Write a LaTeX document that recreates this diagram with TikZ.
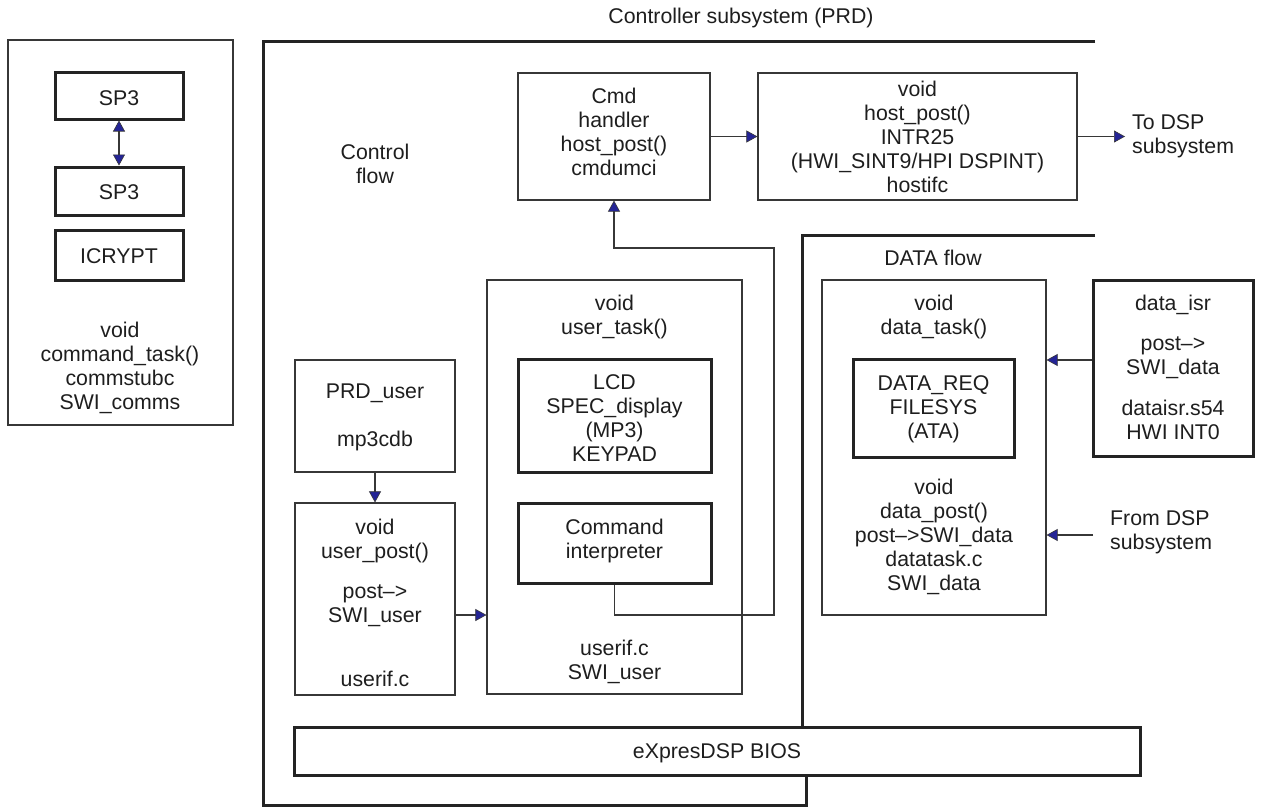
\documentclass[tikz,border=0pt]{standalone}
\usepackage{fontspec}
\setmainfont{Liberation Sans}
\usetikzlibrary{arrows.meta}
\definecolor{arrowblue}{RGB}{36,36,150}
\definecolor{linegray}{RGB}{55,55,55}
\definecolor{thickgray}{RGB}{35,35,35}
\definecolor{textgray}{RGB}{30,30,30}
\begin{document}
\begin{tikzpicture}[x=1pt,y=-1pt,
  thinbox/.style={draw=linegray, line width=1.2pt, inner sep=0pt},
  thickbox/.style={draw=thickgray, line width=3pt, inner sep=0pt},
  frameline/.style={draw=thickgray, line width=3pt, line cap=butt},
  txt/.style={font=\fontsize{21.3}{24}\selectfont, text=textgray, inner sep=0pt, align=center,
    execute at begin node=\strut, execute at end node=\strut},
  txtl/.style={txt, align=left, anchor=west},
  arr/.style={draw=linegray, line width=1.2pt,
    -{Triangle[length=11pt,width=12pt,fill=arrowblue,line width=0.6pt]}},
  darr/.style={draw=linegray, line width=1.2pt,
    {Triangle[length=11pt,width=12pt,fill=arrowblue,line width=0.6pt]}-{Triangle[length=11pt,width=12pt,fill=arrowblue,line width=0.6pt]}}
]
\useasboundingbox[fill=white] (0,0) rectangle (1261,806);

% ---------- left box ----------
\node[thinbox, minimum width=225pt, minimum height=385pt] (leftbox) at (120.5,232.5) {};
\node[thickbox, minimum width=128pt, minimum height=47pt] (sp3a) at (119,95.5) {};
\node[thickbox, minimum width=128pt, minimum height=48pt] (sp3b) at (119,191) {};
\node[thickbox, minimum width=128pt, minimum height=50pt] (icrypt) at (119,255) {};
\node[txt] (tsp3a) at (119,100.4) {SP3};
\node[txt] (tsp3b) at (119,194.9) {SP3};
\node[txt] (ticrypt) at (119,258.4) {ICRYPT};
\node[txt] (tcomm) at (120,368.9) {void\\command\_task()\\commstubc\\SWI\_comms};
\draw[darr] (sp3a.south) -- (sp3b.north);

% ---------- frames ----------
\node[txt] (ttitle) at (741,19) {Controller subsystem (PRD)};
\coordinate (fA) at (1095,41);
\coordinate (fB) at (263,41);
\coordinate (fC) at (263,805);
\coordinate (fD) at (806,805);
\coordinate (fE) at (806,775);
\draw[frameline] (fA) -- (fB) -- (fC) -- (fD) -- (fE);
\coordinate (dA) at (1095,235);
\coordinate (dB) at (802,235);
\coordinate (dC) at (802,727);
\draw[frameline] (dA) -- (dB) -- (dC);

\node[txt] (tcontrol) at (375,167.4) {Control\\flow};
\node[txt] (tdataflow) at (933,260.9) {DATA flow};

% ---------- top row ----------
\node[thinbox, minimum width=192pt, minimum height=127pt] (cmd) at (614,136.5) {};
\node[txt] (tcmd) at (614,135.4) {Cmd\\handler\\host\_post()\\cmdumci};
\node[thinbox, minimum width=319pt, minimum height=127pt] (host) at (917.5,136.5) {};
\node[txt] (thost) at (917.5,140.4) {void\\host\_post()\\INTR25\\(HWI\_SINT9/HPI DSPINT)\\hostifc};
\coordinate (todsp) at (1125,136.5);
\node[txtl] (ttodsp) at (1132,137.4) {To DSP\\subsystem};
\draw[arr] (cmd.east) -- (host.west);
\draw[arr] (host.east) -- (todsp);

% ---------- user side ----------
\node[thinbox, minimum width=160pt, minimum height=112pt] (prd) at (375,416) {};
\node[txt] (tprd) at (375,418.9) {PRD\_user\\[24pt]mp3cdb};
\node[thinbox, minimum width=160pt, minimum height=192pt] (upost) at (375,599) {};
\node[txt] (tupost1) at (375,541.9) {void\\user\_post()};
\node[txt] (tupost2) at (375,606.9) {post–>\\SWI\_user};
\node[txt] (tupost3) at (375,681.9) {userif.c};
\draw[arr] (prd.south) -- (upost.north);

\node[thinbox, minimum width=255pt, minimum height=414pt] (utask) at (614.5,487) {};
\node[txt] (tutask1) at (614.5,318.4) {void\\user\_task()};
\node[txt] (tutask2) at (614.5,662.9) {userif.c\\SWI\_user};
\node[thickbox, minimum width=193pt, minimum height=113pt] (lcd) at (614.5,415.5) {};
\node[txt] (tlcd) at (614.5,421.9) {LCD\\SPEC\_display\\(MP3)\\KEYPAD};
\node[thickbox, minimum width=193pt, minimum height=80pt] (cmdint) at (614.5,543) {};
\node[txt] (tcmdint) at (614.5,541.9) {Command\\interpreter};

\coordinate (uarr) at (0,615);
\draw[arr] (upost.east |- uarr) -- (utask.west |- uarr);

\coordinate (loopA) at (774,615);
\coordinate (loopB) at (774,248);
\draw[arr] (cmdint.south) |- (loopA) |- (cmd.south |- loopB) -- (cmd.south);

% ---------- data side ----------
\node[thinbox, minimum width=224pt, minimum height=335pt] (dtask) at (934,447.5) {};
\node[txt] (tdtask1) at (934,318.4) {void\\data\_task()};
\node[thickbox, minimum width=161pt, minimum height=98pt] (dreq) at (933.5,408) {};
\node[txt] (tdreq) at (933.5,410.4) {DATA\_REQ\\FILESYS\\(ATA)};
\node[txt] (tdtask2) at (934,537.9) {void\\data\_post()\\post–>SWI\_data\\datatask.c\\SWI\_data};

\node[thickbox, minimum width=160pt, minimum height=176pt] (disr) at (1173,368) {};
\node[txt] (tdisr1) at (1173,305.9) {data\_isr};
\node[txt] (tdisr2) at (1173,359.4) {post–>\\SWI\_data};
\node[txt] (tdisr3) at (1173,423.4) {dataisr.s54\\HWI INT0};

\coordinate (israrr) at (0,360);
\draw[arr] (disr.west |- israrr) -- (dtask.east |- israrr);

\coordinate (fromdsp) at (1093,535);
\node[txtl] (tfromdsp) at (1110,533.4) {From DSP\\subsystem};
\draw[arr] (fromdsp) -- (dtask.east |- fromdsp);

% ---------- BIOS ----------
\node[thickbox, minimum width=846pt, minimum height=48pt] (bios) at (717,751) {};
\node[txt] (tbios) at (717,753.4) {eXpresDSP BIOS};
\end{tikzpicture}
\end{document}
